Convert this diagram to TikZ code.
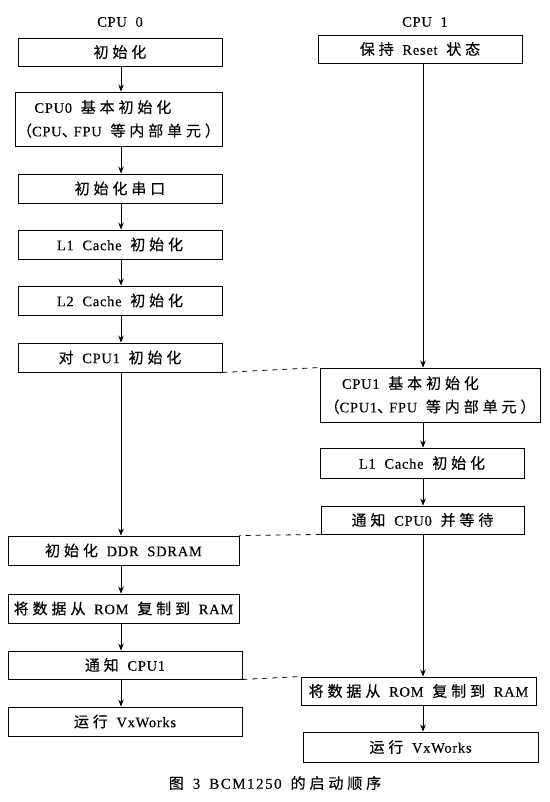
\documentclass[tikz,border=0pt]{standalone}
\usepackage{fontspec}
\setmainfont{Liberation Serif}[LetterSpace=5,WordSpace=2.0,FakeBold=0.3]
\newfontfamily\cjk{Noto Sans CJK SC}[LetterSpace=26,FakeBold=0.3]
\newcommand{\zh}[1]{{\fontsize{15pt}{23.5pt}\cjk #1}}
\usetikzlibrary{arrows.meta}

\begin{document}
\begin{tikzpicture}[x=1pt,y=-1pt,
	box/.style={draw,line width=0.9pt,inner sep=0pt,font=\fontsize{14.5pt}{23.5pt}\selectfont},
	head/.style={font=\fontsize{14.5pt}{16pt}\selectfont},
	arr/.style={-{Stealth[length=7pt,width=5.5pt]},line width=0.8pt},
	link/.style={dash pattern=on 5pt off 5pt,line width=0.8pt}]
	\useasboundingbox (0,0) rectangle (549,802);
	\node[head] (cpu0) at (120,22) {CPU 0};
	\node[head] (cpu1) at (425,22) {CPU 1};
	\node[box,minimum width=204pt,minimum height=28pt] (a1) at (120,52) {\zh{初始化}};
	\node[box,minimum width=207pt,minimum height=54pt,align=left] (a2) at (118.5,119) {\hspace*{1.2em}CPU0 \zh{基本初始化}\\\zh{（}CPU\zh{、}\hspace{-3pt}FPU \zh{等内部单元）}};
	\node[box,minimum width=204pt,minimum height=29pt] (a3) at (120,188.5) {\zh{初始化串口}};
	\node[box,minimum width=204pt,minimum height=29pt] (a4) at (120,244.5) {L1 Cache \zh{初始化}};
	\node[box,minimum width=204pt,minimum height=29pt] (a5) at (120,300.5) {L2 Cache \zh{初始化}};
	\node[box,minimum width=204pt,minimum height=29pt] (a6) at (120,357.5) {\zh{对} CPU1 \zh{初始化}};
	\node[box,minimum width=231pt,minimum height=29pt] (a7) at (123.5,550.5) {\zh{初始化} DDR SDRAM};
	\node[box,minimum width=231pt,minimum height=29pt] (a8) at (123.5,608.5) {\zh{将数据从} ROM \zh{复制到} RAM};
	\node[box,minimum width=234pt,minimum height=28pt] (a9) at (125,665) {\zh{通知} CPU1};
	\node[box,minimum width=234pt,minimum height=29pt] (a10) at (125,721.5) {\zh{运行} VxWorks};
	\node[box,minimum width=204pt,minimum height=28pt] (b1) at (420,49) {\zh{保持} Reset \zh{状态}};
	\node[box,minimum width=220pt,minimum height=54pt,align=left] (b2) at (430,395) {\hspace*{1.2em}CPU1 \zh{基本初始化}\\\zh{（}CPU1\zh{、}\hspace{-3pt}FPU \zh{等内部单元）}};
	\node[box,minimum width=204pt,minimum height=30pt] (b3) at (422,463) {L1 Cache \zh{初始化}};
	\node[box,minimum width=203pt,minimum height=28pt] (b4) at (422.5,520) {\zh{通知} CPU0 \zh{并等待}};
	\node[box,minimum width=235pt,minimum height=28pt] (b5) at (418.5,691) {\zh{将数据从} ROM \zh{复制到} RAM};
	\node[box,minimum width=235pt,minimum height=30pt] (b6) at (420.5,747) {\zh{运行} VxWorks};
	\node[font=\fontsize{15pt}{17pt}\selectfont] (cap) at (275,783) {\zh{图} 3 {\addfontfeature{LetterSpace=10}BCM1250} \zh{的启动顺序}};
	\coordinate (lcol) at (121,0);
	\coordinate (rcol) at (423,0);
	\foreach \u/\v in {a1/a2,a2/a3,a3/a4,a4/a5,a5/a6,a6/a7,a7/a8,a8/a9,a9/a10}
		\draw[arr] (lcol |- \u.south) -- (lcol |- \v.north);
	\foreach \u/\v in {b1/b2,b2/b3,b3/b4,b4/b5,b5/b6}
		\draw[arr] (rcol |- \u.south) -- (rcol |- \v.north);
	\draw[link] (a6.south east) -- (b2.north west);
	\draw[link] (b4.south west) -- (a7.north east);
	\draw[link] (a9.south east) -- (b5.north west);
\end{tikzpicture}
\end{document}
